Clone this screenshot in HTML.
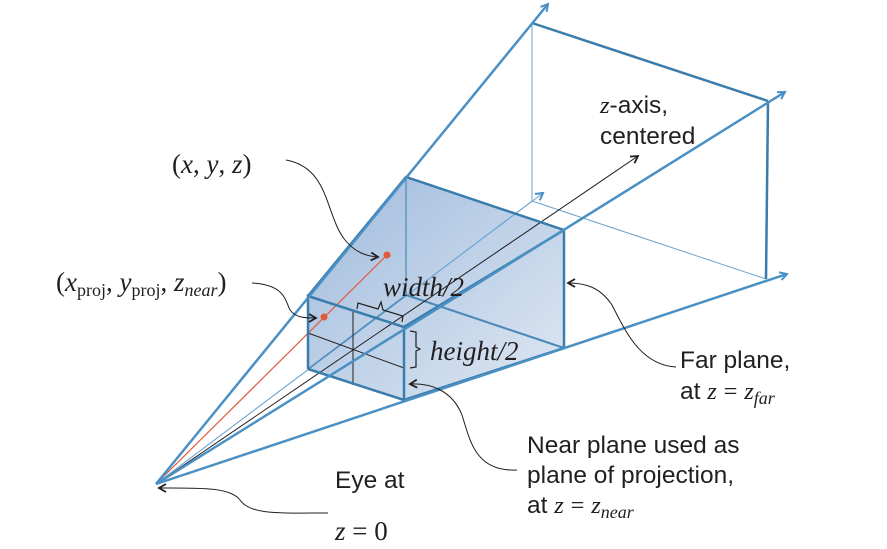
<!DOCTYPE html>
<html><head><meta charset="utf-8"><style>
html,body{margin:0;padding:0;background:#fff}
svg{display:block}
.s{font-family:"Liberation Sans",sans-serif;font-size:24.5px;fill:#231f20}
.m{font-family:"Liberation Serif",serif;font-size:27px;fill:#231f20}
</style></head><body>
<svg width="887" height="549" viewBox="0 0 887 549" xmlns="http://www.w3.org/2000/svg">
<defs>
<linearGradient id="g" x1="0" y1="0" x2="1" y2="1">
<stop offset="0" stop-color="#9fbbdd"/><stop offset="1" stop-color="#dfe8f3"/>
</linearGradient>
<marker id="ab" markerWidth="10" markerHeight="10" refX="8" refY="5" orient="auto" markerUnits="userSpaceOnUse">
<path d="M1,1 L8,5 L1,9" fill="none" stroke="#4a90c4" stroke-width="2"/></marker>
<marker id="ak" markerWidth="10" markerHeight="10" refX="8" refY="5" orient="auto" markerUnits="userSpaceOnUse">
<path d="M1,1 L8,5 L1,9" fill="none" stroke="#231f20" stroke-width="1.8"/></marker>
</defs>
<polygon points="308,296 406,177 564,230 564,348 404,400 308,369" fill="url(#g)"/>
<line x1="532" y1="23" x2="532" y2="201" stroke="#6aa3cf" stroke-width="1"/>
<line x1="532" y1="201" x2="766" y2="279" stroke="#6aa3cf" stroke-width="1"/>
<line x1="156" y1="484" x2="543" y2="193" stroke="#6aa3cf" stroke-width="1" marker-end="url(#ab)"/>
<line x1="156" y1="484" x2="532" y2="201" stroke="#6aa3cf" stroke-width="0.8"/>
<line x1="532" y1="23" x2="768" y2="101" stroke="#3a7cab" stroke-width="2.5"/>
<line x1="768" y1="101" x2="766" y2="279" stroke="#3a7cab" stroke-width="2.5"/>
<line x1="406" y1="177" x2="406" y2="295" stroke="#4a88b8" stroke-width="1.2"/>
<line x1="406" y1="295" x2="564" y2="348" stroke="#4a88b8" stroke-width="2"/>
<line x1="308" y1="369" x2="406" y2="295" stroke="#4a88b8" stroke-width="1.2"/>
<line x1="156" y1="484" x2="638" y2="156" stroke="#231f20" stroke-width="1" marker-end="url(#ak)"/>
<line x1="156" y1="484" x2="387" y2="255" stroke="#e05a3a" stroke-width="1.2"/>
<circle cx="387" cy="255" r="3.5" fill="#e05a3a"/>
<circle cx="324" cy="317" r="3.5" fill="#e05a3a"/>
<line x1="353" y1="311" x2="353" y2="385" stroke="#231f20" stroke-width="1"/>
<line x1="308" y1="333" x2="404" y2="368" stroke="#231f20" stroke-width="1"/>
<polyline points="308,369 308,296 404,327 404,400 308,369" fill="none" stroke="#3a7cab" stroke-width="2.5"/>
<polyline points="308,296 406,177 564,230 564,348" fill="none" stroke="#3a7cab" stroke-width="2.5"/>
<line x1="404" y1="327" x2="564" y2="230" stroke="#3a7cab" stroke-width="2.5"/>
<line x1="404" y1="400" x2="564" y2="348" stroke="#3a7cab" stroke-width="2.5"/>
<line x1="156" y1="484" x2="548" y2="4" stroke="#4a90c4" stroke-width="2.5" marker-end="url(#ab)"/>
<line x1="156" y1="484" x2="785" y2="92" stroke="#4a90c4" stroke-width="2.5" marker-end="url(#ab)"/>
<line x1="156" y1="484" x2="787" y2="274" stroke="#4a90c4" stroke-width="2.5" marker-end="url(#ab)"/>
<path d="M357,309 L358,303 L378,309 L381,302 L383,310 L403,316 L402,322" fill="none" stroke="#231f20" stroke-width="1.2"/>
<path d="M410,331 L416,332 L416,347 L420,349 L416,351 L416,367 L410,368" fill="none" stroke="#231f20" stroke-width="1.2"/>
<path d="M286,160 C330,168 325,215 345,240 C355,252 365,256 378,257" fill="none" stroke="#231f20" stroke-width="1" marker-end="url(#ak)"/>
<path d="M252,283 C285,285 285,300 290,310 C296,318 305,318 316,318" fill="none" stroke="#231f20" stroke-width="1" marker-end="url(#ak)"/>
<path d="M676,367 C640,365 625,330 612,305 C600,287 585,283 568,283" fill="none" stroke="#231f20" stroke-width="1" marker-end="url(#ak)"/>
<path d="M517,470 C475,472 470,440 462,415 C452,390 430,383 410,384" fill="none" stroke="#231f20" stroke-width="1" marker-end="url(#ak)"/>
<path d="M328,513 C280,513 250,515 240,500 C230,487 200,488 159,488" fill="none" stroke="#231f20" stroke-width="1" marker-end="url(#ak)"/>
<text class="m" x="172" y="173">(<tspan font-style="italic">x</tspan>, <tspan font-style="italic">y</tspan>, <tspan font-style="italic">z</tspan>)</text>
<text class="m" x="56" y="291">(<tspan font-style="italic">x</tspan><tspan font-size="18" dy="5">proj</tspan><tspan dy="-5">, </tspan><tspan font-style="italic">y</tspan><tspan font-size="18" dy="5">proj</tspan><tspan dy="-5">, </tspan><tspan font-style="italic">z</tspan><tspan font-size="18" font-style="italic" dy="5">near</tspan><tspan dy="-5">)</tspan></text>
<text class="m" x="383" y="296" font-style="italic">width/2</text>
<text class="m" x="430" y="360" font-style="italic">height/2</text>
<text class="s" x="600" y="113"><tspan font-family="Liberation Serif" font-style="italic">z</tspan>-axis,</text>
<text class="s" x="600" y="144">centered</text>
<text class="s" x="680" y="368">Far plane,</text>
<text class="s" x="680" y="399">at <tspan font-family="Liberation Serif" font-style="italic">z</tspan> <tspan font-family="Liberation Serif">=</tspan> <tspan font-family="Liberation Serif" font-style="italic">z</tspan><tspan font-family="Liberation Serif" font-style="italic" font-size="18" dy="5">far</tspan></text>
<text class="s" x="527" y="453">Near plane used as</text>
<text class="s" x="527" y="483">plane of projection,</text>
<text class="s" x="527" y="513">at <tspan font-family="Liberation Serif" font-style="italic">z</tspan> <tspan font-family="Liberation Serif">=</tspan> <tspan font-family="Liberation Serif" font-style="italic">z</tspan><tspan font-family="Liberation Serif" font-style="italic" font-size="18" dy="5">near</tspan></text>
<text class="s" x="335" y="488">Eye at</text>
<text class="m" x="335" y="540"><tspan font-style="italic">z</tspan> = 0</text>
</svg>
</body></html>
